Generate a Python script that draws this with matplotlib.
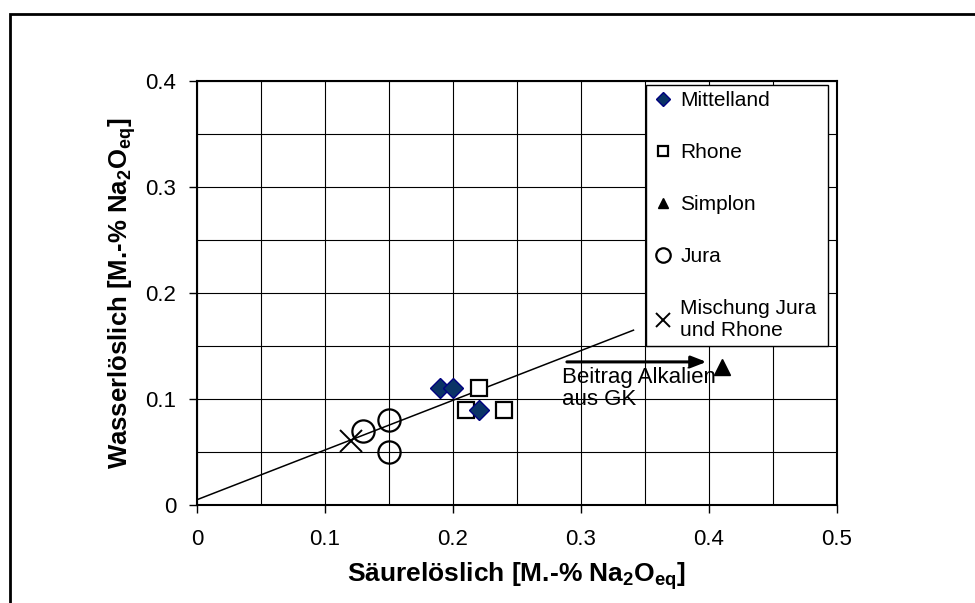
import matplotlib
matplotlib.use("Agg")
import matplotlib.pyplot as plt
from matplotlib.patches import Rectangle
import numpy as np

plt.rcParams['font.family'] = ['Liberation Sans', 'DejaVu Sans']
plt.rcParams['mathtext.fontset'] = 'custom'
plt.rcParams['mathtext.rm'] = 'Liberation Sans'
plt.rcParams['mathtext.bf'] = 'Liberation Sans:bold'
plt.rcParams['mathtext.it'] = 'Liberation Sans:italic'

# Data
mittelland_x = [0.19, 0.20, 0.22]
mittelland_y = [0.11, 0.11, 0.09]
rhone_x = [0.22, 0.21, 0.24]
rhone_y = [0.11, 0.09, 0.09]
simplon_x = [0.41]
simplon_y = [0.13]
jura_x = [0.15, 0.13, 0.15]
jura_y = [0.08, 0.07, 0.05]
mix_x = [0.12]
mix_y = [0.06]
trend_slope = 0.469
trend_intercept = 0.005
trend_xrange = [0.0, 0.341]
arrow_start = (0.289, 0.135)
arrow_end = (0.398, 0.135)
xticks = [0, 0.1, 0.2, 0.3, 0.4, 0.5]
yticks = [0, 0.1, 0.2, 0.3, 0.4]
xtick_labels = ['0', '0.1', '0.2', '0.3', '0.4', '0.5']
ytick_labels = ['0', '0.1', '0.2', '0.3', '0.4']

fig = plt.figure(figsize=(9.75, 6.03), dpi=100)
W, H = 975, 603
ax = fig.add_axes([197 / W, 1 - 505 / H, (837 - 197) / W, (505 - 81) / H])

# outer frame
fig.add_artist(Rectangle((10 / W, -0.2), 1.2, 1 - 14 / H + 0.2, transform=fig.transFigure,
                         fill=False, edgecolor='black', linewidth=2, clip_on=False))

ax.set_xlim(0, 0.5)
ax.set_ylim(0, 0.4)
ax.set_xticks(np.arange(0, 0.501, 0.05), minor=True)
ax.set_yticks(np.arange(0, 0.401, 0.05), minor=True)
ax.grid(which='both', color='black', linewidth=0.8)
ax.set_axisbelow(True)
ax.set_xticks(xticks)
ax.set_xticklabels(xtick_labels)
ax.set_yticks(yticks)
ax.set_yticklabels(ytick_labels)
ax.tick_params(which='major', direction='out', length=6, width=1, labelsize=16, color='black')
ax.tick_params(axis='x', which='major', pad=11)
ax.tick_params(axis='y', which='major', pad=9)
ax.tick_params(which='minor', length=0)
for s in ax.spines.values():
    s.set_linewidth(1.5)

xs = np.array(trend_xrange)
ax.plot(xs, trend_intercept + trend_slope * xs, color='black', linewidth=1.1, zorder=2)

ax.plot(mittelland_x, mittelland_y, linestyle='none', marker='D', markersize=10.5,
        markerfacecolor='#0a3366', markeredgecolor='#000080', markeredgewidth=1, label='Mittelland', zorder=4)
ax.plot(rhone_x, rhone_y, linestyle='none', marker='s', markersize=11.5,
        markerfacecolor='white', markeredgecolor='black', markeredgewidth=1.6, label='Rhone', zorder=3)
ax.plot(simplon_x, simplon_y, linestyle='none', marker='^', markersize=12,
        markerfacecolor='black', markeredgecolor='black', label='Simplon', zorder=3)
ax.plot(jura_x, jura_y, linestyle='none', marker='o', markersize=16,
        markerfacecolor='none', markeredgecolor='black', markeredgewidth=1.6, label='Jura', zorder=3)
ax.plot(mix_x, mix_y, linestyle='none', marker='x', markersize=16,
        markeredgecolor='black', markeredgewidth=1.4, label='Mischung Jura\nund Rhone', zorder=3)

ax.annotate('', xy=arrow_end, xytext=arrow_start,
            arrowprops=dict(arrowstyle='-|>,head_length=0.9,head_width=0.35', color='black', lw=2.2,
                            shrinkA=0, shrinkB=0))
ax.text(0.285, 0.130, 'Beitrag Alkalien\naus GK', fontsize=16, ha='left', va='top',
        linespacing=1.05, zorder=5)

leg = ax.legend(loc='upper left', bbox_to_anchor=(0.7016, 0.3844, 0.284, 0.6062), mode='expand',
                fontsize=15, markerscale=0.65, handlelength=1.0, handletextpad=0.35,
                labelspacing=1.58, borderaxespad=0, borderpad=0.3, fancybox=False,
                frameon=True, framealpha=1, edgecolor='black')
leg.get_frame().set_linewidth(1.0)
for t in leg.get_texts():
    t.set_linespacing(1.2)

ax.set_xlabel(r'Säurelöslich [M.-% Na$_\mathbf{2}$O$_\mathbf{eq}$]', fontsize=19, fontweight='bold', labelpad=8)
ax.set_ylabel(r'Wasserlöslich [M.-% Na$_\mathbf{2}$O$_\mathbf{eq}$]', fontsize=18.5, fontweight='bold', labelpad=5)

fig.savefig('out.png', dpi=100)
